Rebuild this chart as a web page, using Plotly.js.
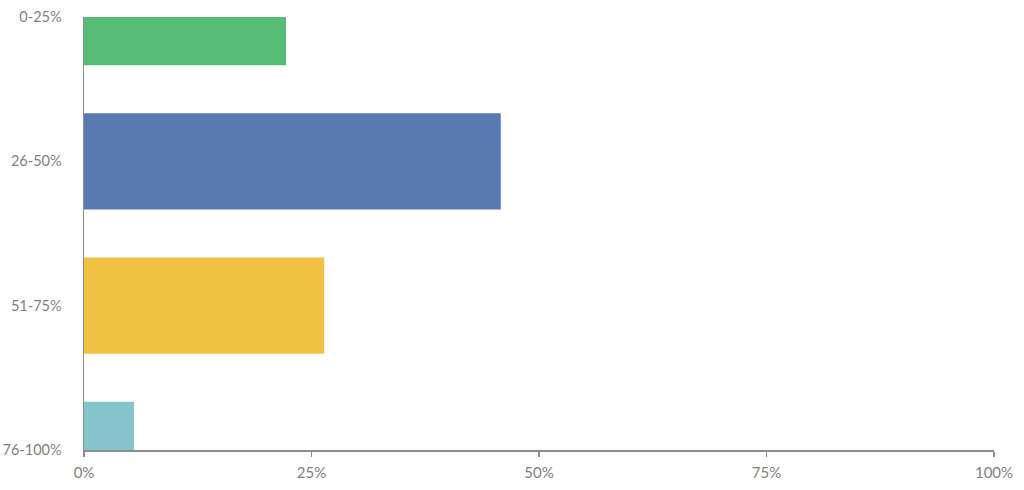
<!DOCTYPE html>
<html>
<head>
<meta charset="utf-8">
<script src="https://cdn.plot.ly/plotly-3.0.1.min.js"></script>
<style>html,body{margin:0;padding:0;background:#fff;}#chart{width:1024px;height:490px;}</style>
</head>
<body>
<div id="chart"></div>
<script>
const categories = ["0-25%", "26-50%", "51-75%", "76-100%"];
const values = [0.222, 0.458, 0.264, 0.055];
const colors = ["#56BD77", "#5A7AB3", "#F0C143", "#84C6CB"];
const xTickVals = [0, 0.25, 0.5, 0.75, 1];
const xTickText = ["0%", "25%", "50%", "75%", "100%"];

const trace = {
  type: "bar",
  orientation: "h",
  x: values,
  y: categories,
  width: 0.667,
  marker: { color: colors, line: { width: 0 } },
  hoverinfo: "none"
};

const layout = {
  width: 1024, height: 490,
  margin: { l: 84, r: 30, t: 17, b: 40 },
  paper_bgcolor: "#ffffff",
  plot_bgcolor: "#ffffff",
  showlegend: false,
  font: { family: "Lato, 'Open Sans', sans-serif", size: 14.5, color: "#7f7f7f" },
  xaxis: {
    range: [0, 1],
    tickvals: xTickVals,
    ticktext: xTickText,
    showgrid: false,
    zeroline: false,
    showline: true,
    linecolor: "#8c8c8c",
    linewidth: 1.5,
    ticks: "outside",
    ticklen: 5,
    tickcolor: "#8c8c8c",
    tickwidth: 1.5,
    tickfont: { size: 15, color: "#7f7f7f" },
    ticklabelstandoff: 3,
    fixedrange: true
  },
  yaxis: {
    type: "category",
    categoryorder: "array",
    categoryarray: categories,
    range: [3, 0],
    showgrid: false,
    zeroline: false,
    showline: true,
    linecolor: "#8c8c8c",
    linewidth: 1.5,
    ticks: "",
    tickfont: { size: 14.5, color: "#7f7f7f" },
    ticklabelstandoff: 18,
    fixedrange: true
  }
};

Plotly.newPlot("chart", [trace], layout, { displayModeBar: false, staticPlot: true });
</script>
</body>
</html>
